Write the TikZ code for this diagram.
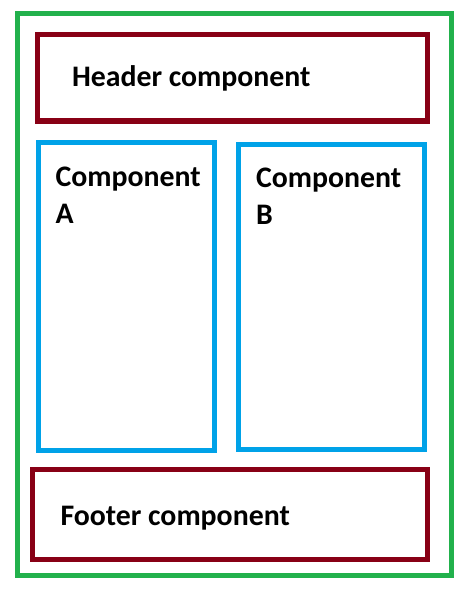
\documentclass[tikz,border=0pt]{standalone}
\usepackage{fontspec}
\setmainfont{Carlito}
\definecolor{pgreen}{RGB}{34,177,76}
\definecolor{pred}{RGB}{136,0,21}
\definecolor{pblue}{RGB}{0,162,232}
\begin{document}
\begin{tikzpicture}[x=1pt,y=-1pt,
  frame/.style={draw=#1, line width=5pt, inner sep=0pt, outer sep=0pt},
  lbl/.style={anchor=base west, inner sep=0pt, outer sep=0pt, align=left,
    font=\fontsize{29.8}{37}\selectfont\bfseries}]
\useasboundingbox (0,0) rectangle (473,599);
\node[frame=pgreen, minimum width=434pt, minimum height=561.5pt] (page) at (234.5,294.25) {};
\node[frame=pred, minimum width=390.5pt, minimum height=86.5pt] (header) at (232.25,77.75) {};
\node[frame=pblue, minimum width=175.5pt, minimum height=308pt] (compA) at (126.25,296.5) {};
\node[frame=pblue, minimum width=186pt, minimum height=305pt] (compB) at (331,297) {};
\node[frame=pred, minimum width=395pt, minimum height=89.5pt] (footer) at (230,514.25) {};
\node[lbl] (headertext) at (72,86.5) {Header component};
\node[lbl] (atext) at (55.5,223.5) {Component\\A};
\node[lbl] (btext) at (256,224.3) {Component\\B};
\node[lbl] (footertext) at (60.5,525.3) {Footer component};
\end{tikzpicture}
\end{document}
